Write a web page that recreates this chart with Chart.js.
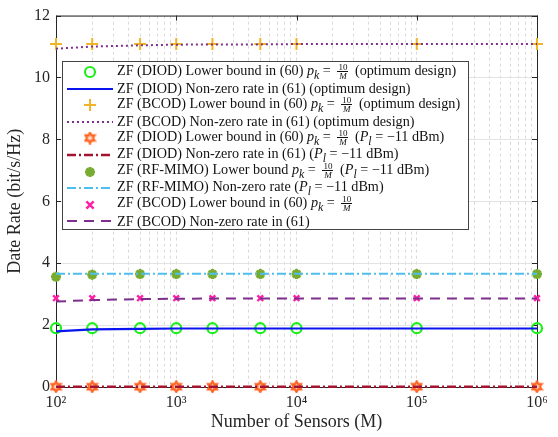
<!DOCTYPE html>
<html lang="en">
<head>
<meta charset="UTF-8">
<title>Date Rate vs Number of Sensors</title>
<script src="https://cdn.jsdelivr.net/npm/chart.js"></script>
<style>
  body { margin: 0; background: #fff; }
  #wrap { position: relative; width: 558px; height: 437px; }
  #legend {
    position: absolute; left: 62px; top: 61px; width: 407px; height: 169px;
    background: #fff; border: 1px solid #444; box-sizing: border-box;
    font-family: 'Liberation Serif', serif; font-size: 14.2px; color: #111;
    padding-top: 2px;
  }
  .row { height: 16.55px; display: flex; align-items: center; white-space: nowrap; }
  .row canvas { width: 48px; height: 14px; margin-left: 3px; margin-right: 3px; flex: none; }
  .frac { display: inline-flex; flex-direction: column; align-items: center; font-size: 9px; line-height: 8.5px; vertical-align: middle; margin: 0 3px; }
  .frac span:first-child { border-bottom: 0.8px solid #111; padding: 0 1px; }
  i { font-style: italic; }
</style>
</head>
<body>
<div id="wrap">
  <canvas id="rateChart"></canvas>
  <div id="legend"></div>
</div>

<script>
// sensors where results were computed
const sensors = [100, 200, 500, 1000, 2000, 5000, 10000, 100000, 1000000];

// optimum design
const diodLowerOpt = [1.90, 1.90, 1.90, 1.90, 1.90, 1.90, 1.90, 1.90, 1.90];
const diodRateOpt  = [1.80, 1.86, 1.88, 1.89, 1.89, 1.89, 1.89, 1.89, 1.89];
const bcodLowerOpt = [11.08, 11.08, 11.08, 11.08, 11.08, 11.08, 11.08, 11.08, 11.08];
const bcodRateOpt  = [10.93, 11.00, 11.04, 11.06, 11.07, 11.07, 11.08, 11.08, 11.08];

// P_l = -11 dBm
const diodLowerPl = [0.01, 0.01, 0.01, 0.01, 0.01, 0.01, 0.01, 0.01, 0.01];
const diodRatePl  = [0.01, 0.01, 0.01, 0.01, 0.01, 0.01, 0.01, 0.01, 0.01];
const rfLowerPl   = [3.56, 3.63, 3.65, 3.65, 3.65, 3.65, 3.65, 3.65, 3.65];
const rfRatePl    = [3.66, 3.66, 3.66, 3.66, 3.66, 3.66, 3.66, 3.66, 3.66];

// BCOD, p_k = 10/M
const bcodLower = [2.87, 2.87, 2.87, 2.87, 2.87, 2.87, 2.87, 2.87, 2.87];
const bcodRate  = [2.76, 2.81, 2.84, 2.85, 2.86, 2.86, 2.86, 2.86, 2.86];

// axis ticks
const xGridValues = [100, 200, 300, 400, 500, 600, 700, 800, 900,
  1000, 2000, 3000, 4000, 5000, 6000, 7000, 8000, 9000,
  10000, 20000, 30000, 40000, 50000, 60000, 70000, 80000, 90000,
  100000, 200000, 300000, 400000, 500000, 600000, 700000, 800000, 900000, 1000000];
const xMajorValues = [100, 1000, 10000, 100000, 1000000];
const xMajorLabels = ['10²', '10³', '10⁴', '10⁵', '10⁶'];
const yTickValues = [0, 2, 4, 6, 8, 10, 12];

const FONT = "'Liberation Serif', serif";

function hexagram(color, size) {
  const c = document.createElement('canvas');
  c.width = size; c.height = size;
  const g = c.getContext('2d');
  const cx = size / 2, cy = size / 2, R = size / 2 - 1.3, r = R / Math.sqrt(3);
  g.strokeStyle = color; g.lineWidth = 2.2; g.lineJoin = 'miter';
  g.beginPath();
  for (let i = 0; i < 12; i++) {
    const a = -Math.PI / 2 + i * Math.PI / 6;
    const rr = i % 2 ? r : R;
    g.lineTo(cx + rr * Math.cos(a), cy + rr * Math.sin(a));
  }
  g.closePath();
  g.fillStyle = '#ffd9c4';
  g.fill();
  g.stroke();
  return c;
}
const hexImg = hexagram('#ff6422', 13);

function toXY(vals) {
  return vals.map((v, i) => ({ x: sensors[i], y: v }));
}

function lineSet(label, vals, color, dash, width) {
  return {
    label, data: toXY(vals), borderColor: color, backgroundColor: color,
    borderDash: dash, borderWidth: width, pointRadius: 0, pointHoverRadius: 0,
    showLine: true, fill: false, tension: 0, clip: false,
    legendKind: 'line'
  };
}

function markSet(label, vals, style, color, radius, width, fill) {
  return {
    label, data: toXY(vals), showLine: false, pointStyle: style,
    pointRadius: radius, pointHoverRadius: radius, pointBorderWidth: width,
    borderColor: color, backgroundColor: fill || 'rgba(0,0,0,0)', clip: false,
    legendKind: 'mark'
  };
}

const legendTexts = [
  'ZF (DIOD) Lower bound in (60) <i>p<sub>k</sub></i> = <span class="frac"><span>10</span><span><i>M</i></span></span> (optimum design)',
  'ZF (DIOD) Non-zero rate in (61) (optimum design)',
  'ZF (BCOD) Lower bound in (60) <i>p<sub>k</sub></i> = <span class="frac"><span>10</span><span><i>M</i></span></span> (optimum design)',
  'ZF (BCOD) Non-zero rate in (61) (optimum design)',
  'ZF (DIOD) Lower bound in (60) <i>p<sub>k</sub></i> = <span class="frac"><span>10</span><span><i>M</i></span></span> (<i>P<sub>l</sub></i> = −11 dBm)',
  'ZF (DIOD) Non-zero rate in (61) (<i>P<sub>l</sub></i> = −11 dBm)',
  'ZF (RF-MIMO) Lower bound <i>p<sub>k</sub></i> = <span class="frac"><span>10</span><span><i>M</i></span></span> (<i>P<sub>l</sub></i> = −11 dBm)',
  'ZF (RF-MIMO) Non-zero rate (<i>P<sub>l</sub></i> = −11 dBm)',
  'ZF (BCOD) Lower bound in (60) <i>p<sub>k</sub></i> = <span class="frac"><span>10</span><span><i>M</i></span></span>',
  'ZF (BCOD) Non-zero rate in (61)'
];

const datasets = [
  markSet('ZF (DIOD) Lower bound in (60) (optimum design)', diodLowerOpt, 'circle', '#1cf01c', 5, 2.2),
  lineSet('ZF (DIOD) Non-zero rate in (61) (optimum design)', diodRateOpt, '#0a14f0', [], 2.2),
  markSet('ZF (BCOD) Lower bound in (60) (optimum design)', bcodLowerOpt, 'cross', '#f0b429', 6, 2),
  lineSet('ZF (BCOD) Non-zero rate in (61) (optimum design)', bcodRateOpt, '#7e2f8e', [2, 3], 2),
  markSet('ZF (DIOD) Lower bound in (60) (Pl = -11 dBm)', diodLowerPl, hexImg, '#ff6422', 6, 2),
  lineSet('ZF (DIOD) Non-zero rate in (61) (Pl = -11 dBm)', diodRatePl, '#a2142f', [9, 3, 2, 3], 2.4),
  markSet('ZF (RF-MIMO) Lower bound (Pl = -11 dBm)', rfLowerPl, 'star', '#77ac30', 5, 3, '#77ac30'),
  lineSet('ZF (RF-MIMO) Non-zero rate (Pl = -11 dBm)', rfRatePl, '#4dbeee', [9, 3, 2, 3], 2),
  markSet('ZF (BCOD) Lower bound in (60)', bcodLower, 'crossRot', '#ff1fa5', 4, 2.4),
  lineSet('ZF (BCOD) Non-zero rate in (61)', bcodRate, '#7e2f8e', [10, 7], 2)
];
// later series drawn on top
datasets.forEach((d, i) => { d.order = datasets.length - i; });

// frame around the plot with inward ticks
const framePlugin = {
  id: 'frame',
  beforeDatasetsDraw(chart) {
    const { ctx, chartArea: a, scales } = chart;
    ctx.save();
    ctx.strokeStyle = '#262626';
    ctx.lineWidth = 1;
    ctx.strokeRect(a.left + 0.5, a.top + 0.5, a.right - a.left, a.bottom - a.top);
    ctx.beginPath();
    yTickValues.forEach(v => {
      const y = Math.round(scales.y.getPixelForValue(v)) + 0.5;
      ctx.moveTo(a.left, y); ctx.lineTo(a.left + 5, y);
      ctx.moveTo(a.right, y); ctx.lineTo(a.right - 5, y);
    });
    xMajorValues.forEach(v => {
      const x = Math.round(scales.x.getPixelForValue(v)) + 0.5;
      ctx.moveTo(x, a.bottom); ctx.lineTo(x, a.bottom - 5);
      ctx.moveTo(x, a.top); ctx.lineTo(x, a.top + 5);
    });
    ctx.stroke();
    ctx.restore();
  }
};

new Chart(document.getElementById('rateChart'), {
  type: 'line',
  data: { datasets },
  options: {
    responsive: true,
    maintainAspectRatio: false,
    animation: false,
    events: [],
    layout: { padding: { top: 9, right: 21, left: 0, bottom: 0 } },
    plugins: { legend: { display: false }, tooltip: { enabled: false } },
    scales: {
      x: {
        type: 'logarithmic', min: 100, max: 1000000,
        afterBuildTicks: axis => {
          axis.ticks = xGridValues.map(v => ({ value: v, major: xMajorValues.includes(v) }));
        },
        afterFit: s => { s.height = 50; },
        ticks: {
          autoSkip: false, maxRotation: 0, padding: 6, color: '#262626',
          font: { family: FONT, size: 16 },
          callback: v => {
            const k = xMajorValues.indexOf(v);
            return k >= 0 ? xMajorLabels[k] : '';
          }
        },
        grid: { color: '#d0d0d0', lineWidth: 0.8, drawTicks: false },
        border: { display: false, dash: [3, 3] },
        title: { display: true, text: 'Number of Sensors (M)', color: '#262626', font: { family: FONT, size: 18 }, padding: { top: 0 } }
      },
      y: {
        min: 0, max: 12,
        afterFit: s => { s.width = 56; },
        afterBuildTicks: axis => { axis.ticks = yTickValues.map(v => ({ value: v })); },
        ticks: { padding: 6, color: '#262626', font: { family: FONT, size: 16 } },
        grid: { color: '#e3e3e3', lineWidth: 1, drawTicks: false },
        border: { display: false },
        title: { display: true, text: 'Date Rate (bit/s/Hz)', color: '#262626', font: { family: FONT, size: 18 }, padding: { bottom: 2 } }
      }
    }
  },
  plugins: [framePlugin]
});

// legend (html, so the fractions can be typeset)
const legend = document.getElementById('legend');
datasets.forEach((d, i) => {
  const row = document.createElement('div');
  row.className = 'row';
  const icon = document.createElement('canvas');
  icon.width = 48; icon.height = 14;
  const g = icon.getContext('2d');
  g.strokeStyle = d.borderColor;
  g.fillStyle = d.backgroundColor;
  if (d.legendKind === 'line') {
    g.lineWidth = d.borderWidth;
    g.setLineDash(d.borderDash);
    g.beginPath(); g.moveTo(1, 7); g.lineTo(47, 7); g.stroke();
  } else {
    const cx = 24, cy = 7, r = d.pointRadius;
    g.lineWidth = d.pointBorderWidth;
    g.beginPath();
    if (d.pointStyle === 'circle') {
      g.arc(cx, cy, r, 0, Math.PI * 2);
    } else if (d.pointStyle === 'cross') {
      g.moveTo(cx - r, cy); g.lineTo(cx + r, cy); g.moveTo(cx, cy - r); g.lineTo(cx, cy + r);
    } else if (d.pointStyle === 'crossRot') {
      const q = r * 0.9;
      g.moveTo(cx - q, cy - q); g.lineTo(cx + q, cy + q); g.moveTo(cx - q, cy + q); g.lineTo(cx + q, cy - q);
    } else if (d.pointStyle === 'star') {
      g.moveTo(cx - r, cy); g.lineTo(cx + r, cy); g.moveTo(cx, cy - r); g.lineTo(cx, cy + r);
      const q = r * 0.707;
      g.moveTo(cx - q, cy - q); g.lineTo(cx + q, cy + q); g.moveTo(cx - q, cy + q); g.lineTo(cx + q, cy - q);
    } else {
      g.drawImage(d.pointStyle, cx - d.pointStyle.width / 2, cy - d.pointStyle.height / 2);
    }
    g.stroke();
  }
  row.appendChild(icon);
  const txt = document.createElement('span');
  txt.innerHTML = legendTexts[i];
  row.appendChild(txt);
  legend.appendChild(row);
});
</script>
</body>
</html>
